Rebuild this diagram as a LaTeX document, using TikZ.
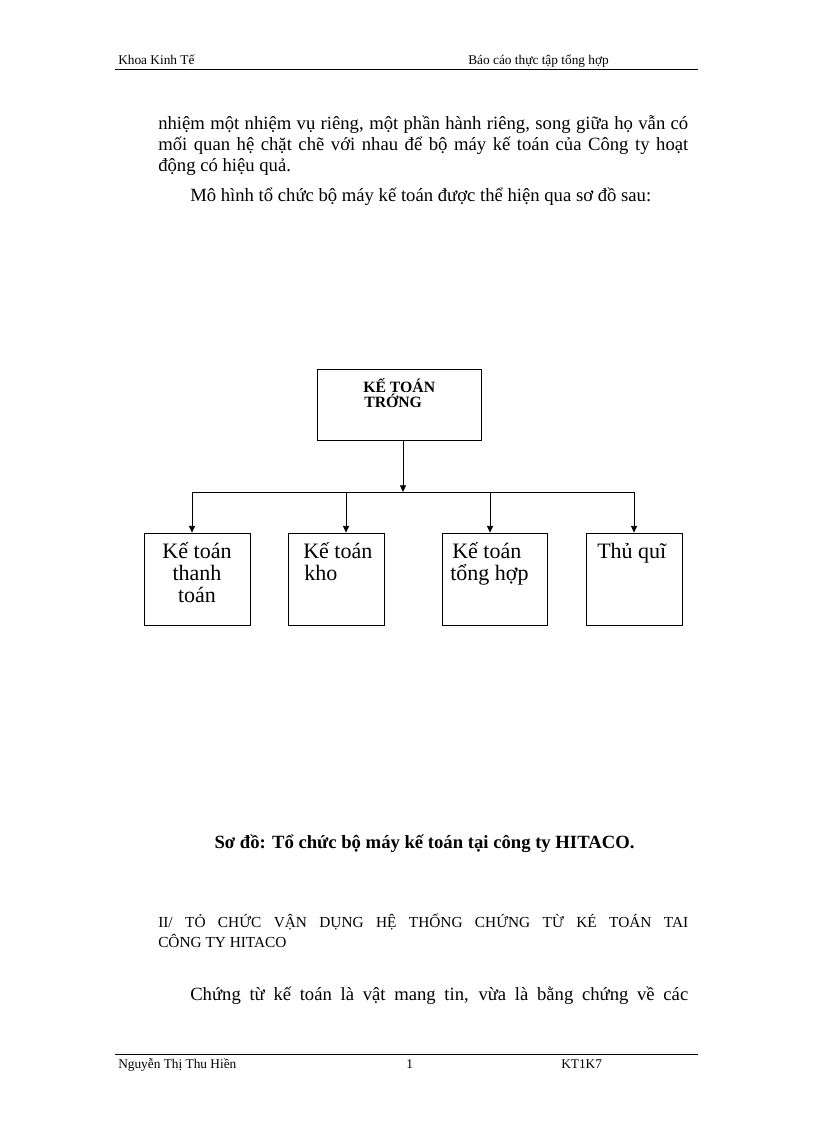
\documentclass[tikz,border=0pt]{standalone}
\usepackage{fontspec}
\setmainfont{Liberation Serif}
\usetikzlibrary{arrows.meta}

\begin{document}
\begin{tikzpicture}[
    x=0.75pt, y=-0.75pt,
    txt/.style={inner sep=0pt, anchor=base west},
    body/.style={txt, font=\fontsize{14}{16.8}\selectfont},
    small/.style={txt, font=\fontsize{10}{12}\selectfont},
    head/.style={txt, font=\fontsize{11.5}{14}\selectfont},
    box/.style={rectangle, draw, line width=0.6pt, minimum height=69pt, inner sep=0pt},
    boxtxt/.style={inner sep=0pt, anchor=base west, font=\fontsize{16.5}{19}\selectfont},
    arr/.style={-{Triangle[length=5pt,width=4.5pt]}, line width=0.6pt}
]
    \useasboundingbox (0,0) rectangle (816,1123);

    % Page header
    \node[small] (hleft) at (118,65) {Khoa Kinh Tế};
    \node[small] (hright) at (468,65) {Báo cáo thực tập tổng hợp};
    \draw[line width=0.6pt] (115,69) -- (698,69);

    % Text above the chart
    \node[body] (p1) at (158,130) {\makebox[397.5pt][s]{nhiệm một nhiệm vụ riêng, một phần hành riêng, song giữa họ vẫn có}};
    \node[body] (p2) at (158,151) {\makebox[397.5pt][s]{mối quan hệ chặt chẽ với nhau để bộ máy kế toán của Công ty hoạt}};
    \node[body] (p3) at (158,172) {động có hiệu quả.};
    \node[body] (p4) at (190,202) {Mô hình tổ chức bộ máy kế toán được thể hiện qua sơ đồ sau:};

    % Chief accountant
    \node[box, minimum width=123pt, minimum height=53.25pt] (ktt) at (399,405) {};
    \node[txt, font=\bfseries\fontsize{11.8}{12}\selectfont] (ktt1) at (363,392) {KẾ TOÁN};
    \node[txt, font=\bfseries\fontsize{11.8}{12}\selectfont] (ktt2) at (364,407) {TRỚNG};

    % Staff boxes
    \node[box, minimum width=79.5pt] (kt1) at (197,579) {};
    \node[box, minimum width=72pt] (kt2) at (336,579) {};
    \node[box, minimum width=78.75pt] (kt3) at (494.5,579) {};
    \node[box, minimum width=72pt] (kt4) at (634,579) {};
    \node[boxtxt, anchor=base] (t1a) at (197,558) {Kế toán};
    \node[boxtxt, anchor=base] (t1b) at (197,580) {thanh};
    \node[boxtxt, anchor=base] (t1c) at (197,602) {toán};
    \node[boxtxt] (t2a) at (303,558) {Kế toán};
    \node[boxtxt] (t2b) at (304,580) {kho};
    \node[boxtxt] (t3a) at (452,558) {Kế toán};
    \node[boxtxt] (t3b) at (450,580) {tổng hợp};
    \node[boxtxt] (t4a) at (597,558) {Thủ quĩ};

    % Connectors
    \coordinate (bus) at (403,492);
    \coordinate (bus1) at (192,492);
    \coordinate (bus2) at (346,492);
    \coordinate (bus3) at (490,492);
    \coordinate (bus4) at (634,492);
    \draw[arr] (ktt.south -| bus) -- (bus);
    \draw[line width=0.6pt] (bus1) -- (bus4);
    \foreach \i in {1,...,4}
        \draw[arr] (bus\i) -- (bus\i |- kt\i.north);

    % Caption and text below
    \node[body, anchor=base, font=\bfseries\fontsize{14}{16.8}\selectfont] (cap) at (424.5,848) {Sơ đồ: Tổ chức bộ máy kế toán tại công ty HITACO.};
    \node[head] (sec1) at (158,927) {\makebox[397.5pt][s]{II/ TỎ CHỨC VẬN DỤNG HỆ THỐNG CHỨNG TỪ KÉ TOÁN TAI}};
    \node[head] (sec2) at (158,947) {CÔNG TY HITACO};
    \node[body] (p5) at (190,1000) {\makebox[373.5pt][s]{Chứng từ kế toán là vật mang tin, vừa là bằng chứng về các}};

    % Page footer
    \draw[line width=0.6pt] (115,1054) -- (698,1054);
    \node[small] (fleft) at (118,1068) {Nguyễn Thị Thu Hiền};
    \node[small] (fmid) at (406,1068) {1};
    \node[small] (fright) at (561,1068) {KT1K7};
\end{tikzpicture}
\end{document}
